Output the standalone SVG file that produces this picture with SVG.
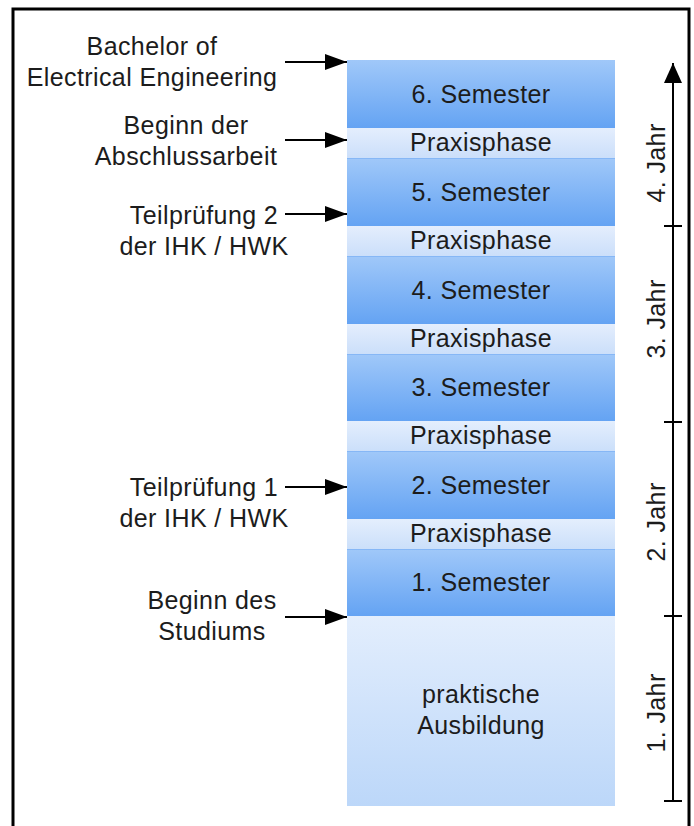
<svg xmlns="http://www.w3.org/2000/svg" width="694" height="826" viewBox="0 0 694 826">
<defs>
<linearGradient id="gSem" x1="0" y1="0" x2="0" y2="1">
<stop offset="0" stop-color="#a0c8f9"/>
<stop offset="1" stop-color="#64a3f3"/>
</linearGradient>
<linearGradient id="gPrax" x1="0" y1="0" x2="0" y2="1">
<stop offset="0" stop-color="#e4eefd"/>
<stop offset="1" stop-color="#cbdffa"/>
</linearGradient>
<linearGradient id="gAus" x1="0" y1="0" x2="0" y2="1">
<stop offset="0" stop-color="#e3eefd"/>
<stop offset="1" stop-color="#bcd7f9"/>
</linearGradient>
<marker id="ah" markerWidth="22" markerHeight="16" refX="22" refY="8" orient="auto" markerUnits="userSpaceOnUse">
<path d="M0,0 L22,8 L0,16 Z" fill="#000"/>
</marker>
<marker id="ahUp" markerWidth="18" markerHeight="20" refX="20" refY="9" orient="auto" markerUnits="userSpaceOnUse">
<path d="M0,0 L20,9 L0,18 Z" fill="#000"/>
</marker>
</defs>
<style>
text{font-family:"Liberation Sans",Arial,sans-serif;font-size:25px;fill:#1c1c1c;letter-spacing:0.4px}
.c{text-anchor:middle}
.sem{fill:url(#gSem)}
.prax{fill:url(#gPrax)}
.sep{stroke:#86b7f6;stroke-width:1}
.conn{stroke:#000;stroke-width:2;fill:none}
</style>
<rect x="13" y="9" width="676" height="830" fill="none" stroke="#000" stroke-width="3"/>

<g id="sem6"><rect class="sem" x="347" y="60" width="268" height="68"/><text class="c" x="481" y="103">6. Semester</text></g>
<g id="prax5"><rect class="prax" x="347" y="128" width="268" height="30"/><text class="c" x="481" y="151">Praxisphase</text></g>
<g id="sem5"><rect class="sem" x="347" y="158" width="268" height="68"/><line class="sep" x1="347" y1="158.5" x2="615" y2="158.5"/><text class="c" x="481" y="201">5. Semester</text></g>
<g id="prax4"><rect class="prax" x="347" y="226" width="268" height="30"/><text class="c" x="481" y="249">Praxisphase</text></g>
<g id="sem4"><rect class="sem" x="347" y="256" width="268" height="68"/><line class="sep" x1="347" y1="256.5" x2="615" y2="256.5"/><text class="c" x="481" y="299">4. Semester</text></g>
<g id="prax3"><rect class="prax" x="347" y="324" width="268" height="30"/><text class="c" x="481" y="347">Praxisphase</text></g>
<g id="sem3"><rect class="sem" x="347" y="354" width="268" height="67"/><line class="sep" x1="347" y1="354.5" x2="615" y2="354.5"/><text class="c" x="481" y="396">3. Semester</text></g>
<g id="prax2"><rect class="prax" x="347" y="421" width="268" height="30"/><text class="c" x="481" y="444">Praxisphase</text></g>
<g id="sem2"><rect class="sem" x="347" y="451" width="268" height="68"/><line class="sep" x1="347" y1="451.5" x2="615" y2="451.5"/><text class="c" x="481" y="494">2. Semester</text></g>
<g id="prax1"><rect class="prax" x="347" y="519" width="268" height="30"/><text class="c" x="481" y="542">Praxisphase</text></g>
<g id="sem1"><rect class="sem" x="347" y="549" width="268" height="67"/><line class="sep" x1="347" y1="549.5" x2="615" y2="549.5"/><text class="c" x="481" y="591">1. Semester</text></g>
<g id="ausbildung"><rect fill="url(#gAus)" x="347" y="616" width="268" height="190"/><text class="c" x="481" y="703">praktische</text><text class="c" x="481" y="734">Ausbildung</text></g>

<g id="lbl-bachelor"><text class="c" x="152" y="55">Bachelor of</text><text class="c" x="152" y="86">Electrical Engineering</text></g>
<g id="lbl-abschluss"><text class="c" x="186" y="134">Beginn der</text><text class="c" x="186" y="165">Abschlussarbeit</text></g>
<g id="lbl-tp2"><text class="c" x="204" y="224">Teilprüfung 2</text><text class="c" x="204" y="255">der IHK / HWK</text></g>
<g id="lbl-tp1"><text class="c" x="204" y="496">Teilprüfung 1</text><text class="c" x="204" y="527">der IHK / HWK</text></g>
<g id="lbl-studium"><text class="c" x="212" y="609">Beginn des</text><text class="c" x="212" y="640">Studiums</text></g>

<g id="axis">
<line class="conn" x1="673" y1="801" x2="673" y2="63" marker-end="url(#ahUp)"/>
<line class="conn" x1="664" y1="226" x2="682" y2="226"/>
<line class="conn" x1="664" y1="422" x2="682" y2="422"/>
<line class="conn" x1="664" y1="616" x2="682" y2="616"/>
<line class="conn" x1="664" y1="801" x2="682" y2="801"/>
<text class="c" transform="translate(665,163) rotate(-90)">4. Jahr</text>
<text class="c" transform="translate(665,319) rotate(-90)">3. Jahr</text>
<text class="c" transform="translate(665,522) rotate(-90)">2. Jahr</text>
<text class="c" transform="translate(665,713) rotate(-90)">1. Jahr</text>
</g>

<g id="connectors">
<line class="conn" x1="285" y1="62" x2="347" y2="62" marker-end="url(#ah)"/>
<line class="conn" x1="285" y1="140" x2="347" y2="140" marker-end="url(#ah)"/>
<line class="conn" x1="285" y1="214" x2="347" y2="214" marker-end="url(#ah)"/>
<line class="conn" x1="285" y1="487" x2="347" y2="487" marker-end="url(#ah)"/>
<line class="conn" x1="285" y1="617" x2="347" y2="617" marker-end="url(#ah)"/>
</g>
</svg>
